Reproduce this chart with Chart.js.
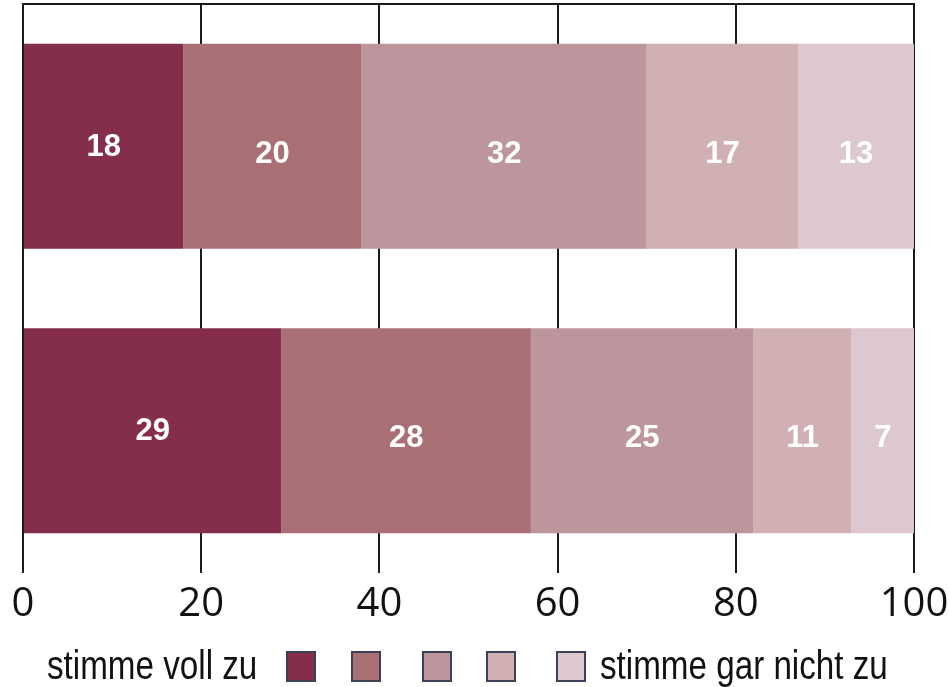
<!DOCTYPE html>
<html>
<head>
<meta charset="utf-8">
<script src="https://cdn.jsdelivr.net/npm/chart.js@4/dist/chart.umd.min.js"></script>
<style>
  html, body { margin: 0; padding: 0; background: #fff; }
  #wrap { position: relative; width: 949px; height: 687px; }
  #c { position: absolute; left: 0; top: 0; }
  .lg-text { position: absolute; top: 640px; height: 50px; line-height: 50px;
             font-family: 'Liberation Sans', Arial, sans-serif;
             font-size: 40px; color: #111; white-space: nowrap;
             transform: scaleX(0.83); transform-origin: 0 50%; }
  .lg-box { position: absolute; top: 651px; width: 26px; height: 27px;
            border: 2px solid #3c4157; }
</style>
</head>
<body>
<div id="wrap">
  <canvas id="c" width="949" height="687"></canvas>
  <div id="legend"></div>
</div>
<script>
const categories = ['Gruppe 1', 'Gruppe 2'];
const seriesNames = ['stimme voll zu', '2', '3', '4', 'stimme gar nicht zu'];
const series1 = [18, 29];
const series2 = [20, 28];
const series3 = [32, 25];
const series4 = [17, 11];
const series5 = [13, 7];
const tickValues = [0, 20, 40, 60, 80, 100];
const colors = ['#852e4b', '#a87075', '#bc959d', '#d1b0b4', '#dec8cf'];

const allSeries = [series1, series2, series3, series4, series5];
const labelOffsets = [1, 8, 8, 8, 8];

const valueLabels = {
  id: 'valueLabels',
  afterDatasetsDraw(chart) {
    const ctx = chart.ctx;
    ctx.save();
    ctx.fillStyle = '#ffffff';
    ctx.font = 'bold 31px "Liberation Sans", Arial, sans-serif';
    ctx.textAlign = 'center';
    ctx.textBaseline = 'middle';
    chart.data.datasets.forEach((ds, di) => {
      const meta = chart.getDatasetMeta(di);
      meta.data.forEach((bar, i) => {
        const cx = (bar.x + bar.base) / 2;
        ctx.fillText(String(ds.data[i]), cx, bar.y + labelOffsets[di]);
      });
    });
    ctx.restore();
  }
};

new Chart(document.getElementById('c'), {
  type: 'bar',
  data: {
    labels: categories,
    datasets: allSeries.map((d, i) => ({
      label: seriesNames[i],
      data: d,
      backgroundColor: colors[i],
      borderWidth: 0,
      barPercentage: 0.72,
      categoryPercentage: 1.0
    }))
  },
  options: {
    indexAxis: 'y',
    responsive: false,
    animation: false,
    layout: { padding: { left: 23, right: 35, top: 4, bottom: 50 } },
    plugins: { legend: { display: false }, tooltip: { enabled: false } },
    scales: {
      x: {
        stacked: true,
        min: 0, max: 100,
        afterBuildTicks(axis) { axis.ticks = tickValues.map(v => ({ value: v })); },
        afterFit(axis) { axis.paddingLeft = 0; axis.paddingRight = 0; },
        grid: { color: '#1a1a1a', lineWidth: 2, drawTicks: false },
        border: { display: false },
        ticks: {
          color: '#111',
          padding: 8,
          font: { family: '"Open Sans", sans-serif', size: 40 },
          maxRotation: 0
        }
      },
      x2: {
        position: 'top',
        min: 0, max: 100,
        grid: { display: false, drawTicks: false },
        border: { display: true, color: '#1a1a1a', width: 2 },
        ticks: { display: false }
      },
      y: {
        stacked: true,
        display: false
      }
    }
  },
  plugins: [valueLabels]
});

// HTML legend built from series names and colours
const legend = document.getElementById('legend');
const boxLefts = [286, 351, 422, 486, 556];
const t1 = document.createElement('div');
t1.className = 'lg-text'; t1.style.left = '47px'; t1.textContent = seriesNames[0];
legend.appendChild(t1);
colors.forEach((c, i) => {
  const b = document.createElement('div');
  b.className = 'lg-box'; b.style.left = boxLefts[i] + 'px'; b.style.background = c;
  legend.appendChild(b);
});
const t2 = document.createElement('div');
t2.className = 'lg-text'; t2.style.left = '600px'; t2.textContent = seriesNames[4];
legend.appendChild(t2);
</script>
</body>
</html>
